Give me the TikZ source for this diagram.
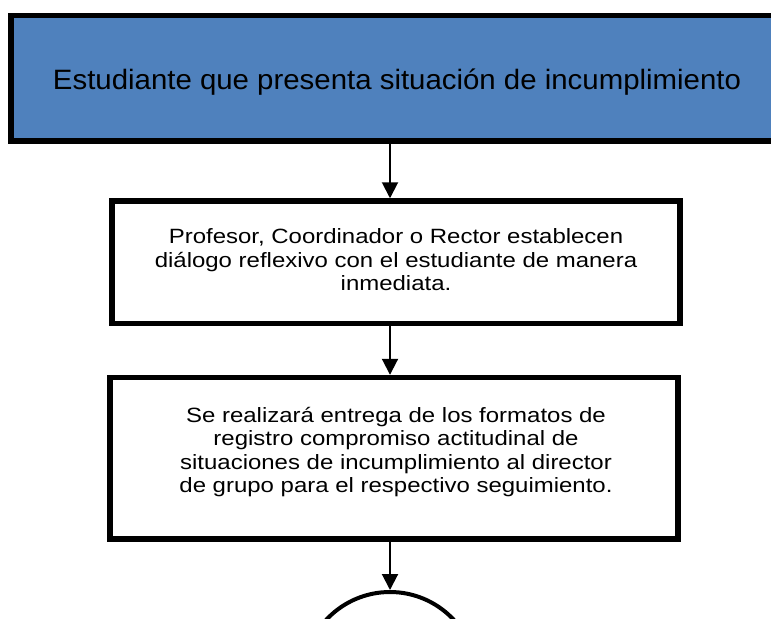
\documentclass[tikz,border=0pt]{standalone}
\usepackage{fontspec}
\setmainfont{Liberation Sans}
\newfontfamily\wideA[FakeStretch=1.16]{Liberation Sans}
\newfontfamily\wideB[FakeStretch=1.05]{Liberation Sans}
\usetikzlibrary{arrows.meta}
\definecolor{boxblue}{RGB}{79,129,189}
\begin{document}
\begin{tikzpicture}[x=0.75pt,y=-0.75pt,
  box/.style={draw=black, line width=4.1pt, rectangle, inner sep=0pt},
  txt/.style={align=center, inner sep=0pt, font=\wideA\fontsize{15.5}{17.6}\selectfont},
  bigtxt/.style={align=center, inner sep=0pt, font=\wideB\fontsize{21}{24}\selectfont},
  arr/.style={-{Triangle[width=12pt,length=12pt]}, line width=1.5pt}]
\path[use as bounding box, clip] (0,0) rectangle (771,618);
\fill[white] (0,0) rectangle (771,618);
\node[box, fill=boxblue, minimum width=584.25pt, minimum height=94.1pt] (b1) at (400.5,78.25) {};
\node[bigtxt] (t1) at (397,82) {Estudiante que presenta situación de incumplimiento};
\node[box, minimum width=426pt, minimum height=91.9pt] (b2) at (396,262.25) {};
\node[txt] (t2) at (396,260) {Profesor, Coordinador o Rector establecen\\diálogo reflexivo con el estudiante de manera\\inmediata.};
\node[box, minimum width=426pt, minimum height=121.1pt] (b3) at (394,458.25) {};
\node[txt] (t3) at (396,452) {Se realizará entrega de los formatos de\\registro compromiso actitudinal de\\situaciones de incumplimiento al director\\de grupo para el respectivo seguimiento.};
\node[circle, draw=black, line width=3pt, minimum size=130.5pt, inner sep=0pt] (c) at (390,679) {};
\draw[arr] (b1.south -| c) -- (b2.north -| c);
\draw[arr] (b2.south -| c) -- (b3.north -| c);
\draw[arr] (b3.south -| c) -- (c.north);
\end{tikzpicture}
\end{document}
